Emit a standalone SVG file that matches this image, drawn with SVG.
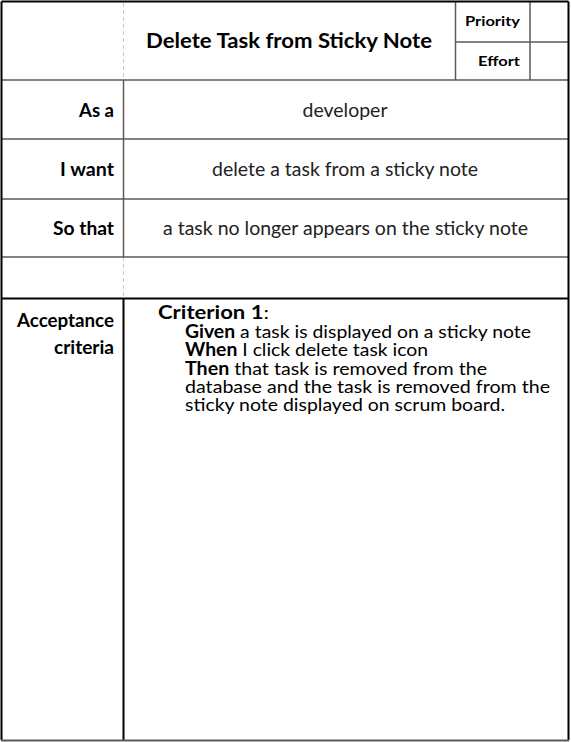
<svg xmlns="http://www.w3.org/2000/svg" width="571" height="742" viewBox="0 0 571 742">
<style>
.t{font-family:Lato,"Liberation Sans",sans-serif;fill:#000}
.b{font-weight:bold}
.lbl{font-family:Lato,"Liberation Sans",sans-serif;font-weight:bold;font-size:18.5px;text-anchor:end;fill:#000}
.val{font-family:Lato,"Liberation Sans",sans-serif;font-size:18.5px;font-weight:400;text-anchor:middle;fill:#222}
.crit{font-family:Lato,"Liberation Sans",sans-serif;font-size:18px;fill:#000}
.g{stroke:#5a5a5a;stroke-width:1.5;fill:none}
.k{stroke:#000;stroke-width:2;fill:none}
.d{stroke:#c8c8c8;stroke-width:1;stroke-dasharray:4,3;fill:none}
</style>
<rect width="571" height="742" fill="#fff"/>
<g id="connectors">
<line class="d" x1="123.5" y1="3" x2="123.5" y2="80"/>
<line class="d" x1="123.5" y1="257" x2="123.5" y2="298"/>
<line class="g" x1="123.5" y1="80" x2="123.5" y2="257"/>
<line class="k" x1="123.5" y1="298" x2="123.5" y2="740"/>
<line class="g" x1="455.5" y1="2" x2="455.5" y2="80"/>
<line class="g" x1="530" y1="2" x2="530" y2="80"/>
<line class="g" x1="455.5" y1="42" x2="568" y2="42"/>
<line class="g" x1="2" y1="80" x2="568" y2="80"/>
<line class="g" x1="2" y1="139" x2="568" y2="139"/>
<line class="g" x1="2" y1="199" x2="568" y2="199"/>
<line class="g" x1="2" y1="257" x2="568" y2="257"/>
<line class="k" x1="2" y1="298.5" x2="568" y2="298.5"/>
<line class="k" x1="1.5" y1="1.5" x2="568.5" y2="1.5"/>
<line class="k" x1="1.5" y1="1.5" x2="1.5" y2="740"/>
<line class="k" x1="568.5" y1="1.5" x2="568.5" y2="740"/>
<line class="g" x1="1" y1="740.5" x2="569" y2="740.5" style="stroke-width:2"/>
</g>
<g id="title">
<text class="t b" x="289" y="48" font-size="20" text-anchor="middle" textLength="286" lengthAdjust="spacingAndGlyphs">Delete Task from Sticky Note</text>
</g>
<g id="priority">
<text class="t b" x="520" y="26" font-size="14" text-anchor="end" textLength="55" lengthAdjust="spacingAndGlyphs">Priority</text>
</g>
<g id="effort">
<text class="t b" x="520" y="66" font-size="14" text-anchor="end" textLength="42" lengthAdjust="spacingAndGlyphs">Effort</text>
</g>
<g id="as-a">
<text class="lbl" x="114" y="117" textLength="35" lengthAdjust="spacingAndGlyphs">As a</text>
<text class="val" x="345" y="117" textLength="85" lengthAdjust="spacingAndGlyphs">developer</text>
</g>
<g id="i-want">
<text class="lbl" x="114" y="176" textLength="54" lengthAdjust="spacingAndGlyphs">I want</text>
<text class="val" x="345" y="176" textLength="266" lengthAdjust="spacingAndGlyphs">delete a task from a sticky note</text>
</g>
<g id="so-that">
<text class="lbl" x="114" y="235" textLength="61" lengthAdjust="spacingAndGlyphs">So that</text>
<text class="val" x="345.5" y="235" textLength="365" lengthAdjust="spacingAndGlyphs">a task no longer appears on the sticky note</text>
</g>
<g id="acceptance">
<text class="lbl" x="114" y="327" textLength="97" lengthAdjust="spacingAndGlyphs">Acceptance</text>
<text class="lbl" x="114" y="354" textLength="60" lengthAdjust="spacingAndGlyphs">criteria</text>
<text class="crit" x="158" y="319" textLength="111" lengthAdjust="spacingAndGlyphs"><tspan font-weight="bold">Criterion 1</tspan>:</text>
<text class="crit" x="185" y="338" textLength="346" lengthAdjust="spacingAndGlyphs"><tspan font-weight="bold">Given</tspan> a task is displayed on a sticky note</text>
<text class="crit" x="185" y="356" textLength="243" lengthAdjust="spacingAndGlyphs"><tspan font-weight="bold">When</tspan> I click delete task icon</text>
<text class="crit" x="185" y="375" textLength="302" lengthAdjust="spacingAndGlyphs"><tspan font-weight="bold">Then</tspan> that task is removed from the</text>
<text class="crit" x="185" y="393" textLength="365" lengthAdjust="spacingAndGlyphs">database and the task is removed from the</text>
<text class="crit" x="185" y="411" textLength="320" lengthAdjust="spacingAndGlyphs">sticky note displayed on scrum board.</text>
</g>
</svg>
